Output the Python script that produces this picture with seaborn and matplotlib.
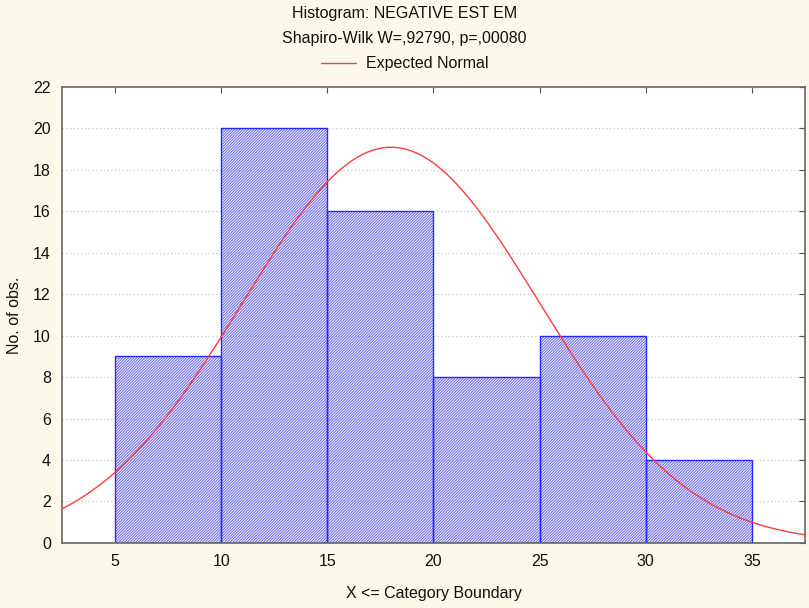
import numpy as np
import pandas as pd
import matplotlib
matplotlib.use("Agg")
import matplotlib.pyplot as plt
import seaborn as sns

# ----------------------------------------
# Data
# ----------------------------------------
bin_edges = [5, 10, 15, 20, 25, 30, 35]
bin_counts = [9, 20, 16, 8, 10, 4]
x_ticks = [5, 10, 15, 20, 25, 30, 35]
y_ticks = [0, 2, 4, 6, 8, 10, 12, 14, 16, 18, 20, 22]

# expected normal parameters
fit_mean = 18.0
fit_sd = 7.0

title_1 = "Histogram: NEGATIVE EST EM"
title_2 = "Shapiro-Wilk W=,92790, p=,00080"

# ----------------------------------------
# Style
# ----------------------------------------
sns.set_style("white")
plt.rcParams["font.family"] = ["Liberation Sans", "DejaVu Sans"]
plt.rcParams["text.color"] = "#111111"
plt.rcParams["hatch.linewidth"] = 0.8

bg = "#fdf8ec"
bar_blue = "#2828ff"
hatch_blue = "#7070f0"

fig = plt.figure(figsize=(8.09, 6.08), dpi=100, facecolor=bg)
ax = fig.add_axes([0.0766, 0.107, 0.9184, 0.75])
ax.set_facecolor("white")

# ----------------------------------------
# Histogram (hatched fill, then outline on top)
# ----------------------------------------
mids = [(a + b) / 2 for a, b in zip(bin_edges[:-1], bin_edges[1:])]
df = pd.DataFrame({"x": mids, "n": bin_counts})

sns.histplot(
    data=df, x="x", weights="n", bins=bin_edges,
    stat="count", fill=False, ax=ax, color=hatch_blue,
    linewidth=0, hatch="/" * 12, zorder=2
)
sns.histplot(
    data=df, x="x", weights="n", bins=bin_edges,
    stat="count", fill=False, ax=ax, color=bar_blue,
    linewidth=1.0, zorder=2.5
)

# ----------------------------------------
# Expected normal curve
# ----------------------------------------
n_total = sum(bin_counts)
width = bin_edges[1] - bin_edges[0]
xs = np.linspace(2.5, 37.5, 300)
ys = n_total * width / (fit_sd * np.sqrt(2 * np.pi)) * np.exp(-0.5 * ((xs - fit_mean) / fit_sd) ** 2)
curve = pd.DataFrame({"x": xs, "y": ys})
sns.lineplot(data=curve, x="x", y="y", color="#ff3b3b", linewidth=1.0, ax=ax, zorder=3)

# ----------------------------------------
# Axes
# ----------------------------------------
ax.set_xlim(2.5, 37.5)
ax.set_ylim(0, 22)
ax.set_xticks(x_ticks)
ax.set_yticks(y_ticks)
ax.yaxis.grid(True, linestyle=(0, (1, 2)), color="#c8c8c8", linewidth=0.9, zorder=0)
ax.set_axisbelow(True)
ax.tick_params(axis="both", labelsize=11.5, labelcolor="#111111", direction="in",
               length=4, color="#555555",
               top=True, right=True, bottom=False, left=False, pad=8)
for s in ax.spines.values():
    s.set_color("#666666")
    s.set_linewidth(1.2)

ax.set_xlabel("X <= Category Boundary", fontsize=11.5, labelpad=12, color="#111111")
ax.set_ylabel("No. of obs.", fontsize=11.5, labelpad=8, color="#111111")

fig.text(0.5, 0.978, title_1, ha="center", va="center", fontsize=11.5)
fig.text(0.5, 0.937, title_2, ha="center", va="center", fontsize=11.5)

handle = plt.Line2D([], [], color="#ff3b3b", linewidth=1.0)
fig.legend([handle], ["Expected Normal"], loc="center", bbox_to_anchor=(0.5, 0.895),
           frameon=False, fontsize=11.5, handlelength=2.2, handletextpad=0.6)

fig.savefig("out.png", dpi=100, facecolor=bg)
